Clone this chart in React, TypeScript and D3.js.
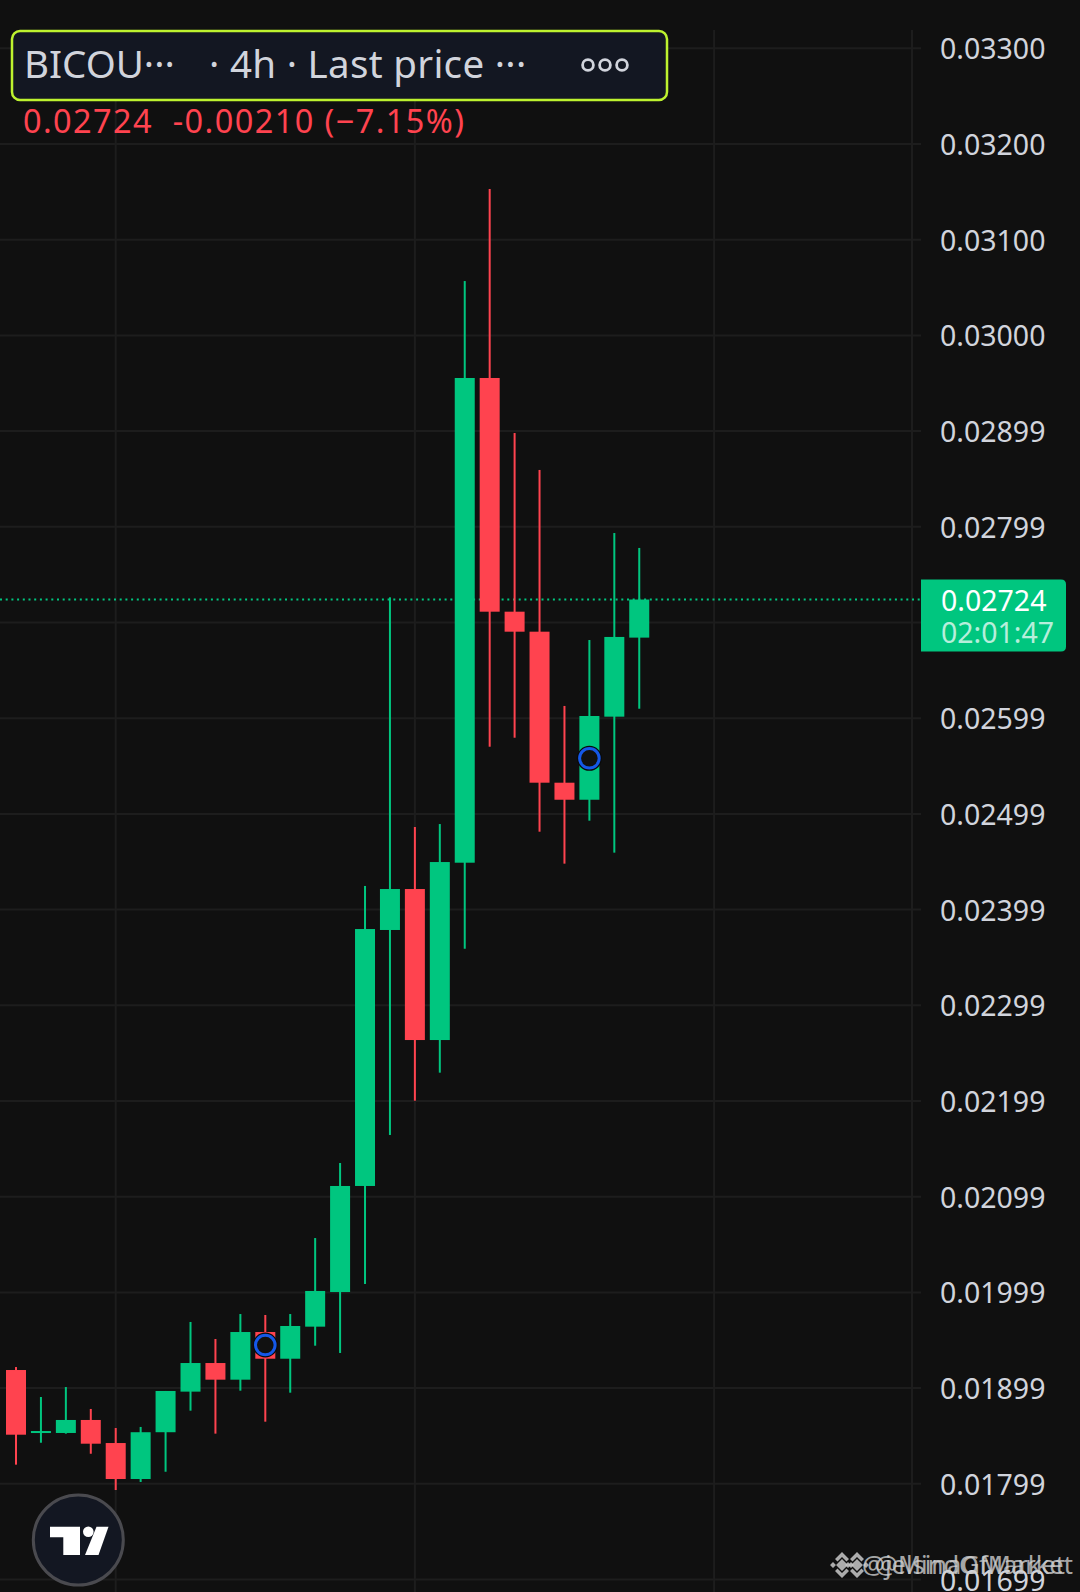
import React from "react";
import * as d3 from "d3";

// ---- data ----
const candleIndex = d3.range(26);
const opens = [0.019189, 0.01853, 0.018531, 0.018667, 0.018426, 0.01805, 0.018539, 0.018963, 0.019262, 0.019088, 0.019586, 0.019307, 0.019642, 0.020004, 0.021112, 0.023787, 0.024215, 0.022637, 0.02449, 0.029555, 0.027113, 0.026904, 0.025326, 0.025148, 0.026016, 0.026842];
const highs = [0.01922, 0.018907, 0.019011, 0.018782, 0.018583, 0.018594, 0.01897, 0.019691, 0.019513, 0.019774, 0.019764, 0.019774, 0.020568, 0.021352, 0.024247, 0.027263, 0.024863, 0.024894, 0.030568, 0.03153, 0.02898, 0.028594, 0.026128, 0.026817, 0.027935, 0.027779];
const lows = [0.0182, 0.018429, 0.018524, 0.018314, 0.017935, 0.018019, 0.018126, 0.018764, 0.018524, 0.018973, 0.018649, 0.018952, 0.019443, 0.019367, 0.020088, 0.021645, 0.022003, 0.022296, 0.023591, 0.025702, 0.025796, 0.024814, 0.02448, 0.024929, 0.024595, 0.026099];
const closes = [0.018513, 0.018541, 0.018667, 0.018419, 0.01805, 0.018539, 0.01897, 0.019262, 0.019088, 0.019586, 0.019307, 0.019649, 0.020015, 0.021112, 0.023797, 0.024215, 0.022637, 0.024497, 0.029555, 0.027113, 0.026904, 0.025326, 0.025148, 0.026023, 0.026849, 0.02724];

const tickValues = [0.033, 0.032, 0.031, 0.03, 0.029, 0.028, 0.027, 0.026, 0.025, 0.024, 0.023, 0.022, 0.021, 0.02, 0.019, 0.018, 0.017];
const tickLabels = ["0.03300", "0.03200", "0.03100", "0.03000", "0.02899", "0.02799", "0.02699", "0.02599", "0.02499", "0.02399", "0.02299", "0.02199", "0.02099", "0.01999", "0.01899", "0.01799", "0.01699"];
const verticalGridIdx = [4, 16, 28];

const markerIdx = [10, 23];
const markerPrice = [0.01945, 0.025581];

const lastPrice = 0.02724;
const lastPriceLabel = "0.02724";
const countdown = "02:01:47";
const titleSymbol = "BICOU···";
const titleRest = "· 4h · Last price ···";
const changeText = "0.02724  -0.00210 (−7.15%)";
const watermarks = ["@jelsinaGMarket", "@MindOfMarket"];

// ---- style ----
const W = 1080;
const H = 1592;
const BG = "#101010";
const GRID = "#1d1d1d";
const UP = "#00c67f";
const DOWN = "#ff434f";
const TEXT = "#d1d4dc";
const FONT = "'Noto Sans', 'Open Sans', sans-serif";

export default function App() {
  const y = d3.scaleLinear().domain([0.017, 0.033]).range([48.3 + 16 * 95.7, 48.3]);
  const x = d3.scaleLinear().domain([0, 25]).range([16, 16 + 25 * 24.93]);
  const bodyW = 20;
  const paneRight = 912;
  const gridRight = 921;

  const lastY = y(lastPrice);

  return (
    <svg
      width={W}
      height={H}
      style={{ position: "absolute", left: 0, top: 0, display: "block", background: BG }}
      fontFamily={FONT}
    >
      <rect x={0} y={0} width={W} height={H} fill={BG} />

      {/* horizontal grid */}
      {tickValues.map((v, i) => (
        <line key={"hg" + i} x1={0} x2={gridRight} y1={y(v)} y2={y(v)} stroke={GRID} strokeWidth={2} />
      ))}
      {/* vertical grid */}
      {verticalGridIdx.map((k) => (
        <line key={"vg" + k} x1={x(k)} x2={x(k)} y1={30} y2={H} stroke={GRID} strokeWidth={2} />
      ))}
      <line x1={paneRight} x2={paneRight} y1={30} y2={H} stroke={GRID} strokeWidth={2} />

      {/* last price dotted line */}
      <line x1={0} x2={gridRight} y1={lastY} y2={lastY} stroke={UP} strokeWidth={2} strokeDasharray="2 3.7" />

      {/* candles */}
      {candleIndex.map((i) => {
        const o = opens[i];
        const c = closes[i];
        const up = c >= o;
        const col = up ? UP : DOWN;
        const top = y(Math.max(o, c));
        const bot = y(Math.min(o, c));
        const h = Math.max(2, bot - top);
        const cx = x(i);
        return (
          <g key={"c" + i}>
            <rect x={cx - 1} y={y(highs[i])} width={2} height={y(lows[i]) - y(highs[i])} fill={col} />
            <rect x={cx - bodyW / 2} y={bot - top < 2 ? top - 1 : top} width={bodyW} height={h} fill={col} />
          </g>
        );
      })}

      {/* markers */}
      {markerIdx.map((k, j) => (
        <g key={"m" + j}>
          <circle cx={x(k)} cy={y(markerPrice[j])} r={11} fill="#0e0e0e" stroke="#0a0a0a" strokeWidth={3} />
          <circle cx={x(k)} cy={y(markerPrice[j])} r={9.8} fill="#111111" stroke="#1558e8" strokeWidth={3} />
        </g>
      ))}

      {/* right axis labels */}
      {tickValues.map((v, i) => (
        <text key={"tl" + i} x={940} y={y(v) + 11} fontSize={28.5} fill={TEXT}>
          {tickLabels[i]}
        </text>
      ))}

      {/* last price tag */}
      <path
        d={`M921,${lastY - 20} H1061 Q1066,${lastY - 20} 1066,${lastY - 15} V${lastY + 47} Q1066,${lastY + 52} 1061,${lastY + 52} H921 Z`}
        fill={UP}
      />
      <text x={941} y={lastY + 11} fontSize={28.5} fill="#ffffff">{lastPriceLabel}</text>
      <text x={941} y={lastY + 43} fontSize={28.5} fill="#ffffff" fillOpacity={0.72}>{countdown}</text>

      {/* header legend */}
      <rect x={12} y={31} width={655} height={69} rx={8} fill="#131722" stroke="#bdf22f" strokeWidth={2.5} />
      <text x={24} y={78} fontSize={38.5} fill={TEXT}>{titleSymbol}</text>
      <text x={209} y={78} fontSize={38.5} fill={TEXT} letterSpacing={0.3}>{titleRest}</text>
      {[588, 605, 622].map((cx) => (
        <circle key={"d" + cx} cx={cx} cy={65} r={5.4} fill="none" stroke={TEXT} strokeWidth={2.8} />
      ))}
      <text x={23} y={133} fontSize={32.5} letterSpacing={1.4} fill={DOWN} style={{ whiteSpace: "pre" }}>
        {changeText}
      </text>

      {/* TradingView logo */}
      <circle cx={78.3} cy={1540} r={45} fill="#131722" stroke="#4a4a4f" strokeWidth={3} />
      <polygon points="50,1526.7 80,1526.7 80,1555 63.3,1555 63.3,1537.3 50,1537.3" fill="#ffffff" />
      <circle cx={88.3} cy={1531.7} r={5.3} fill="#ffffff" />
      <polygon points="96.5,1526.7 108.5,1526.7 98.5,1555 85,1555" fill="#ffffff" />

      {/* watermark */}
      {[830, 845].map((bx, j) => (
        <g key={"bn" + j} transform={`translate(${bx + 12},1565)`} fill="#c8c8c8" opacity={0.85}>
          <path d="M0,-6 L6,0 L0,6 L-6,0 Z M-9,-3 L-6,0 L-9,3 L-12,0 Z M9,-3 L12,0 L9,3 L6,0 Z M0,-13 L7,-6 L4.5,-3.5 L0,-8 L-4.5,-3.5 L-7,-6 Z M0,13 L7,6 L4.5,3.5 L0,8 L-4.5,3.5 L-7,6 Z" />
        </g>
      ))}
      {watermarks.map((t, j) => (
        <text key={"wm" + j} x={862 + j * 13} y={1574} fontSize={25.5} fill="#d0d0d0" fillOpacity={0.8}>
          {t}
        </text>
      ))}
    </svg>
  );
}
